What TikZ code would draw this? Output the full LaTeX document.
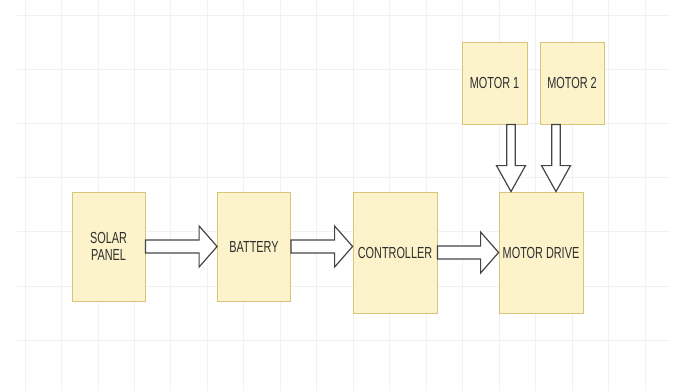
\documentclass[tikz,border=0pt]{standalone}
\usepackage{fontspec}
\setmainfont[FakeStretch=0.68]{Liberation Sans}
\usetikzlibrary{calc}
\definecolor{boxfill}{HTML}{FDF3CB}
\definecolor{boxline}{HTML}{D9C47C}
\definecolor{gridline}{HTML}{F1F1F1}
\definecolor{arrowline}{HTML}{454545}
\definecolor{labeltext}{HTML}{2E2E2E}

\begin{document}
\begin{tikzpicture}[x=1pt,y=-1pt,
    block/.style={draw=boxline, fill=boxfill, line width=0.8pt, text=labeltext,
      font=\fontsize{16}{17}\selectfont, align=center, inner sep=0pt},
    rarrow/.style={draw=arrowline, fill=white, line width=1.2pt, to path={
      let \p1=(\tikztostart), \p2=(\tikztotarget) in
      (\x1,\y1+6.5pt) -- (\x2-18pt,\y1+6.5pt) -- (\x2-18pt,\y1+20.5pt) -- (\x2,\y2)
      -- (\x2-18pt,\y1-20.5pt) -- (\x2-18pt,\y1-6.5pt) -- (\x1,\y1-6.5pt) -- cycle}},
    darrow/.style={draw=arrowline, fill=white, line width=1.2pt, to path={
      let \p1=(\tikztostart), \p2=(\tikztotarget) in
      (\x1-4.3pt,\y1) -- (\x1-4.3pt,\y2+26pt) -- (\x1-14.5pt,\y2+26pt) -- (\x2,\y2)
      -- (\x1+14.5pt,\y2+26pt) -- (\x1+4.3pt,\y2+26pt) -- (\x1+4.3pt,\y1) -- cycle}}]
    \useasboundingbox (0,0) rectangle (677,391);
    % background grid
    \foreach \k in {0,...,6}
        \draw[gridline, line width=0.8pt] (17,15+54.2*\k) -- (670,15+54.2*\k);
    \foreach \k in {0,...,17}
        \draw[gridline, line width=0.8pt] (25+36.47*\k,0) -- (25+36.47*\k,391);

    \node[block, minimum width=73pt, minimum height=109pt] (solar) at (108.5,246.5) {SOLAR\\PANEL};
    \node[block, minimum width=73pt, minimum height=109pt] (battery) at (254,246.5) {BATTERY};
    \node[block, minimum width=84pt, minimum height=121pt] (controller) at (395,252.5) {CONTROLLER};
    \node[block, minimum width=84pt, minimum height=121pt] (drive) at (541,252.5) {MOTOR DRIVE};
    \node[block, minimum width=65pt, minimum height=82pt] (motor1) at (494.5,83) {MOTOR 1};
    \node[block, minimum width=64pt, minimum height=82pt] (motor2) at (572,83) {MOTOR 2};

    \coordinate (ctrlin) at (controller.west |- battery.east);
    \coordinate (m1out) at ([xshift=16.5pt]motor1.south);
    \coordinate (m1in) at (m1out |- drive.north);
    \coordinate (m2out) at ([xshift=-16pt]motor2.south);
    \coordinate (m2in) at (m2out |- drive.north);

    \draw[rarrow] (solar.east) to (battery.west);
    \draw[rarrow] (battery.east) to (ctrlin);
    \draw[rarrow] (controller.east) to (drive.west);
    \draw[darrow] (m1out) to (m1in);
    \draw[darrow] (m2out) to (m2in);
\end{tikzpicture}
\end{document}
